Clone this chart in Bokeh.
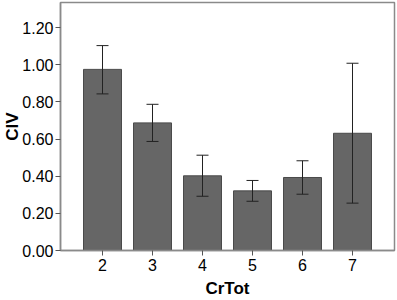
from bokeh.plotting import figure
from bokeh.models import ColumnDataSource, Range1d, FixedTicker, NumeralTickFormatter, Whisker, TeeHead
from bokeh.embed import file_html
from bokeh.resources import INLINE

crtot = [2, 3, 4, 5, 6, 7]
civ_mean = [0.975, 0.687, 0.402, 0.321, 0.393, 0.631]
civ_upper = [1.103, 0.787, 0.513, 0.377, 0.483, 1.008]
civ_lower = [0.843, 0.587, 0.292, 0.265, 0.303, 0.255]
y_ticks = [0.0, 0.2, 0.4, 0.6, 0.8, 1.0, 1.2]

src = ColumnDataSource(dict(x=crtot, top=civ_mean, upper=civ_upper, lower=civ_lower))

p = figure(width=397, height=300, output_backend="svg", toolbar_location=None,
           x_range=Range1d(1.16, 7.84), y_range=Range1d(0, 1.335),
           min_border_left=60, min_border_right=3, min_border_top=2, min_border_bottom=50)
p.background_fill_color = "white"
p.border_fill_color = "white"
p.outline_line_color = "#8a8a8a"
p.outline_line_width = 1.5
p.xgrid.visible = False
p.ygrid.visible = False

p.vbar(x="x", top="top", bottom=0, width=0.76, source=src,
       fill_color="#666666", line_color="#4a4a4a", line_width=1)

w = Whisker(base="x", upper="upper", lower="lower", source=src, level="annotation",
            line_color="#222222", line_width=1,
            upper_head=TeeHead(size=12, line_color="#222222", line_width=1),
            lower_head=TeeHead(size=12, line_color="#222222", line_width=1))
p.add_layout(w)

font = "Liberation Sans"
for ax in (p.xaxis[0], p.yaxis[0]):
    ax.axis_line_color = "#8a8a8a"
    ax.axis_line_width = 1.5
    ax.major_tick_line_color = "#555555"
    ax.minor_tick_line_color = None
    ax.major_tick_in = 0
    ax.major_tick_out = 5
    ax.major_label_text_font = font
    ax.major_label_text_font_size = "16px"
    ax.major_label_text_color = "black"
    ax.axis_label_text_font = font
    ax.axis_label_text_font_style = "bold"
    ax.axis_label_text_font_size = "17px"
    ax.axis_label_text_color = "black"

p.xaxis.ticker = FixedTicker(ticks=crtot)
p.xaxis.axis_label = "CrTot"
p.xaxis.major_label_standoff = 3
p.xaxis.axis_label_standoff = 5

p.yaxis.ticker = FixedTicker(ticks=y_ticks)
p.yaxis.formatter = NumeralTickFormatter(format="0.00")
p.yaxis.axis_label = "CIV"
p.yaxis.major_label_standoff = 2
p.yaxis.axis_label_standoff = -3

open("out.html", "w").write(file_html(p, INLINE))
